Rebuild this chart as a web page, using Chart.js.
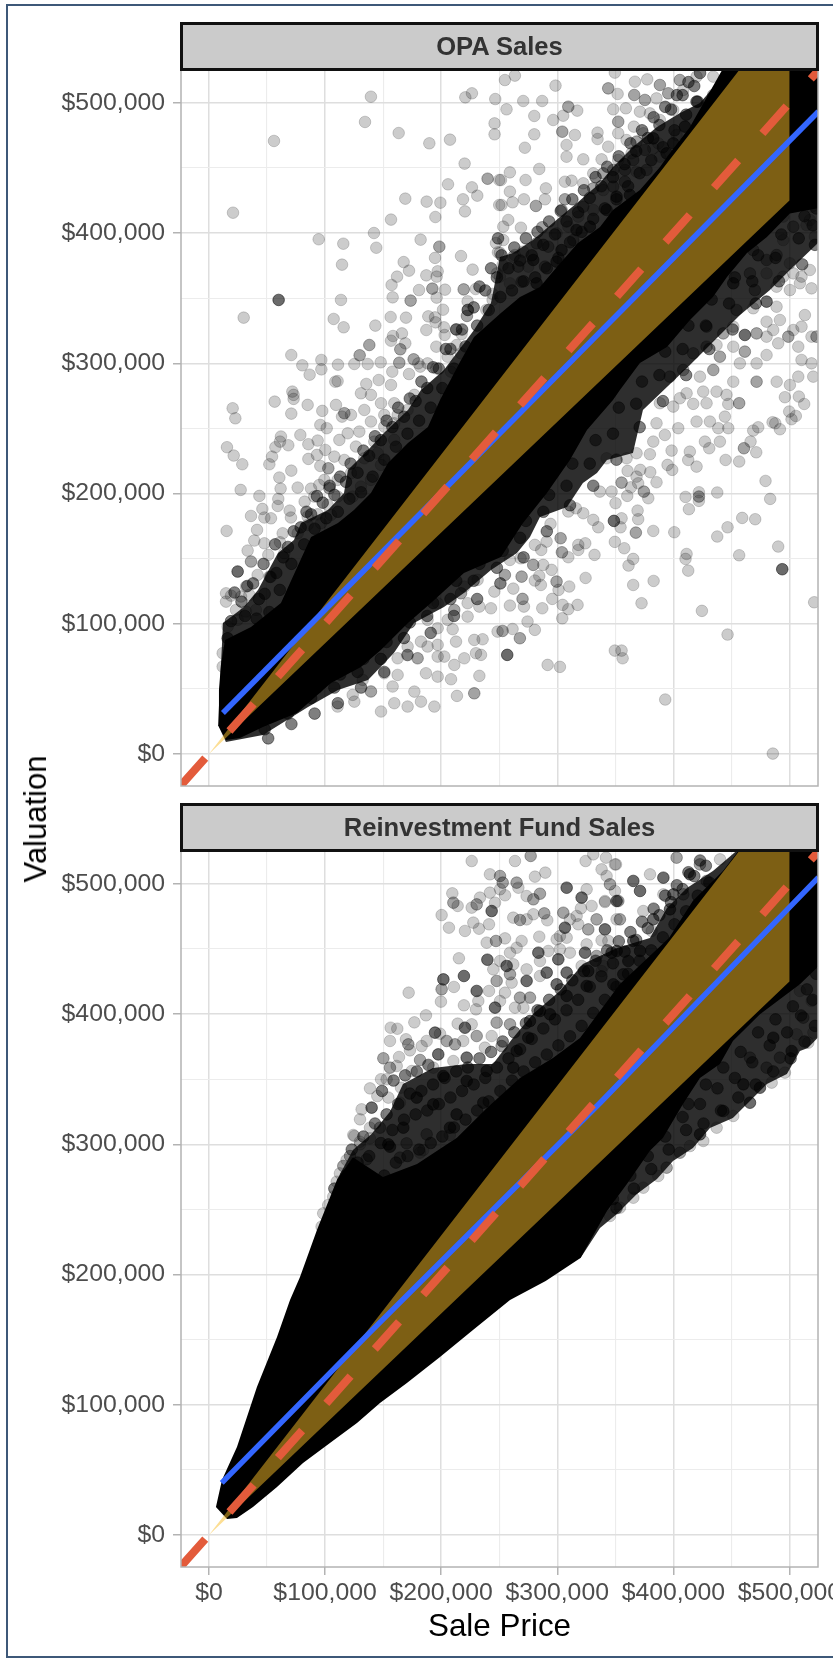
<!DOCTYPE html>
<html>
<head>
<meta charset="utf-8">
<title>Valuation vs Sale Price</title>
<script src="https://cdn.jsdelivr.net/npm/chart.js@4"></script>
<style>
  html, body { margin: 0; padding: 0; background: #fff; overflow: hidden; }
  #page { position: relative; width: 833px; height: 1658px; overflow: hidden; font-family: "Liberation Sans", Arial, sans-serif; }
  #frame { position: absolute; left: 6px; top: 4px; width: 840px; height: 1650px; border: 2px solid #3d5878; }
  .panel { position: absolute; left: 0; width: 833px; filter: blur(0.5px); }
  .strip { position: absolute; left: 180px; width: 633px; height: 43px; line-height: 43px; background: #cbcbcb; border: 3px solid #111;
           text-align: center; font-weight: bold; font-size: 25.6px; color: #333; filter: blur(0.4px); }
  #yTitle { position: absolute; left: 36px; top: 819px; transform: translate(-50%, -50%) rotate(-90deg); font-size: 31px; color: #000; white-space: nowrap; }
</style>
</head>
<body>
<div id="page">
  <div id="frame"></div>
  <div class="panel" style="top:0;height:800px"><canvas id="opaChart" width="833" height="800"></canvas></div>
  <div class="panel" style="top:800px;height:858px"><canvas id="fundChart" width="833" height="858"></canvas></div>
  <div class="strip" style="top:22px">OPA Sales</div>
  <div class="strip" style="top:803px">Reinvestment Fund Sales</div>
  <div id="yTitle">Valuation</div>
</div>
<script>
// all values below in thousands of dollars
const tickValues = [0, 50, 100, 150, 200, 250, 300, 350, 400, 450, 500];
const xRange = [-24.1, 524.6];
const yRange = [-24.6, 525.3];

const bandX = [0, 500, 500];
const bandY = [0, 575, 425];
const refLine = [-24.1, 560];

const opaBlueX = [12, 525];
const opaBlueY = [31.5, 493.4];
const fundBlueX = [11, 138, 337, 525];
const fundBlueY = [40, 155, 332, 505];

// solid black part of the OPA cloud (outline)
const opaDense = [[14.6,10.8],[7.8,22.3],[8.6,49.2],[10.3,68.4],[13.8,87.6],[36.2,97.5],[62,116],[74.9,141.3],[87.9,166.7],[111.1,177.4],[124.9,187.4],[139.5,200.5],[154.2,223.5],[171.4,238.9],[188.6,251.2],[199,271.9],[216.2,301.1],[228.3,320.3],[251.5,338.7],[267.9,351],[285.1,358.7],[299.7,374],[317.8,392.4],[336.8,404.8],[348,417.8],[371.2,433.2],[388.5,450.8],[394.5,458.5],[414.3,481.6],[445,530],[530,530],[530,420],[500.4,415],[480.6,397],[463.4,384.8],[446.2,366.4],[434.1,351],[414.3,333.3],[394.5,312.6],[371.2,300.3],[354,279.6],[348,271.9],[325.6,248.9],[310.9,225.8],[291.1,200.5],[270.5,177.4],[251.5,151.3],[219.6,139],[191.2,116],[171.4,100.6],[148.1,79.9],[130.9,66.8],[105.1,54.5],[75.8,31.5],[46.5,20.7],[26.7,12.3]];
// thinner rim round it
const opaHaze = [[7.8,22.3],[12.1,100.6],[30.1,112.9],[42.2,126],[59.4,154.4],[73.2,164.4],[79.2,177.4],[102.5,187.4],[116.3,200.5],[119.7,218.1],[137,233.5],[150.7,246.5],[171.4,264.2],[182.6,279.6],[202.4,294.9],[228.3,325.7],[242.9,346.4],[250.6,381.7],[261.8,384.8],[279.1,394.8],[302.3,412.4],[317,423.2],[336.8,438.6],[348,450.8],[365.2,466.2],[385.9,481.6],[405.7,492.3],[422.9,500],[440.1,517.7],[445,530],[530,530],[530,397],[500.4,371.7],[483.2,356.4],[457.4,337.2],[435.8,318],[414.3,298.8],[373.8,264.2],[365.2,231.2],[342.8,225.8],[334.2,215.8],[322.1,208.1],[308.4,189.7],[285.1,182],[276.5,166.7],[265.3,154.4],[242.9,141.3],[219.6,123.7],[202.4,112.9],[176.6,100.6],[159.3,77.6],[137,56.8],[111.1,49.2],[85.3,36.1],[46.5,14.6],[14.6,9.2]];

const opaPoints = [[139.5,504.8],[134.4,485.4],[56,470.8],[163.4,476.9],[189.8,469],[207.6,471.8],[220.8,504.3],[226.5,507.4],[246.6,503],[246,484.3],[246,475.9],[220.2,453.4],[250,440.8],[205.9,437.5],[226.5,435.2],[231.1,428.8],[218.8,426],[169.1,426.5],[187.5,424.2],[199.3,423.4],[220.5,416.7],[250,421.6],[195,412.4],[156.8,410.4],[20.7,415.7],[142.1,400.1],[94.5,395.3],[115.7,391.9],[144.1,388.8],[182.3,395],[217.1,382.4],[247.2,392.4],[248.9,385.3],[194.7,381],[167.7,377.8],[114.6,375.8],[172.3,371.2],[227.1,372],[248,369.1],[162,366.6],[187.2,367.6],[197,370.7],[196.1,366.6],[157.3,360.2],[180.9,356.3],[203.3,356.6],[229.7,357.1],[158.2,350.7],[196.1,350.5],[113.7,348.7],[222.8,347.6],[244.3,353.3],[244.3,348.7],[29.9,335.1],[107.4,334.1],[116,327.7],[156.5,335.6],[169.7,335.1],[188.9,336.1],[201.6,341.2],[194.7,335.3],[222.8,341],[238.9,341],[143.3,329],[187.2,325.6],[195.2,331.5],[202.4,327.7],[212.8,326.1],[217.6,322.5],[203,321.8],[158.5,321],[166.2,323],[156.8,317.4],[169.1,315.4],[195.8,312.8],[213.3,314.1],[70.9,306.4],[80.4,298.5],[96.8,302.6],[96.8,295.4],[111.1,299],[86.7,291.3],[125.2,299.5],[136.7,299.5],[147.9,300.8],[180.3,300],[195.8,296.2],[188.3,300],[157.9,293.6],[172.3,291.8],[110.8,286.4],[108.8,285.9],[135.5,284.2],[146.2,287.2],[156.8,283.4],[71.8,278.3],[182,297.5],[205.6,305.1],[217.1,307.7],[208.4,293.6],
[20.4,265.5],[22.7,257.8],[56.6,270.6],[72.9,275.8],[72.9,272.7],[85,268.1],[70.9,261.4],[97.6,263.5],[109.4,268.1],[114.6,259.1],[95.9,252.7],[101.4,250.2],[78.7,245],[62,243.8],[61.2,239.9],[68.3,237.1],[57.2,235.6],[85.6,237.9],[93.6,240.7],[15.5,235.6],[21.3,229.2],[28.7,222.5],[54.3,228.4],[52,222.5],[85.6,226.6],[93,229.7],[100.2,233.5],[95.9,221.2],[70.9,217.6],[60.6,212.3],[61.7,203.8],[76.4,204.6],[27.3,202.8],[43.4,198.2],[87.9,203.8],[95,206.6],[59.7,195.9],[59.2,190.5],[82.4,193.8],[69.5,186.9],[46,188.2],[36.2,182.8],[47.7,181.6],[53.4,181],[70.6,181.6],[93.6,184.1],[15.2,171.3],[41.4,172.1],[85,175.9],[76.4,169.5],[63.5,169.5],[39,163.9],[47.7,161.8],[61.2,162.6],[33.3,156.2],[51.1,152.9],[64.9,154.2],[41.9,137.5],[52,136.2],[14.7,123.4],[19,121.6],[14.7,117],[31.9,128.6],[27.6,120.9],[34.8,122.2],[23.3,110.6],[31.9,109.4],[16.1,97.8],[24.7,103],[40.5,110.6],[11.8,67.1],[11.8,77.4],
[130.9,277],[139.5,275.8],[148.2,269.4],[159.6,269.4],[122.3,260.4],[133.8,264.2],[139.5,255.3],[151,260.4],[162.5,260.4],[159.6,254],[171.1,264.2],[176.9,275.8],[112.3,241.2],[119.5,246.3],[129.5,247.6],[142.4,239.9],[151,251.4],[126.6,236.1],[133.8,227.1],[116.6,225.8],[145.3,231],[108,228.4],[99.4,210.5],[122.3,215.6],[110.8,210.5],[130.9,205.4],[90.7,197.7],[102.2,191.3],[110.8,197.7],[123.8,197.7],[139.5,210.5],[148.2,222],[159.6,241.2],[85,182.3],[105.1,183.6],[96.5,177.2],
[242.9,111.9],[245.8,124.7],[232.9,113.2],[222.8,115.8],[222.8,105.5],[235.7,88.1],[228.5,87.6],[248.6,94],[209.9,95.8],[212.8,86.3],[230,77.4],[234.3,76.1],[219.9,73.5],[211.3,68.4],[202.7,74.8],[197,59.4],[208.5,57.4],[232.9,60],[213.6,44.6],[194.1,36.4],[182.6,40.2],[171.1,36.4],[159.6,39],[176.9,47.9],[158.2,51.8],[148.2,32.6],[125.2,40.2],[110.8,36.4],[123.8,45.4],[182.6,86.3],[197,83.8],[188.3,82.5],[197,96.6],[197,74.8],[186.9,62],[162.5,60.7],[132.4,56.9],[151,62],[162.5,73.5],[171.1,82.5],[205.6,103],[188.3,103],[197,115.8],[219.9,128.6],[231.4,133.7],
[521.3,116.5],[490.3,159.3],[456.7,152.6],[470.5,180.3],[459.3,181.3],[446.7,174.1],[437.8,167],[483.4,195.9],[479.4,209.7],[437.8,200.8],[422,201],[422,194.4],[410.5,197.4],[413.4,188],[400.8,170.3],[382.7,171.3],[369.2,186.9],[369.7,180.3],[355.4,181],[354.5,174.1],[349.6,162.9],[357.7,158],[365.4,149.8],[361.4,144.7],[365.4,129.8],[383,132.9],[372.6,115.8],[411.4,153.6],[410.5,149.8],[412.8,140.8],[424.6,109.9],[446.7,91.7],[393,41.8],[485.7,0.3],[349.6,79.4],[355.4,79.4],[356.3,73.5],[291.7,68.4],[302.3,66.9],[280.7,95.3],[274.4,101.7],[261.5,96],[304.3,104.2],[309.5,111.2],[317.5,114.5],[304.6,114.5],[287.1,111.9],[295.7,119.1],[271.3,113.2],[259.2,114],[262.1,127],[301.1,126],[310.3,128.6],[324.4,135.2],[285.9,129.8],[280.7,133.2],[284.5,136.7],[295.1,141.4],[287.9,145.2],[259.2,149],[268.4,150.3],[309.5,151.1],[332.1,152.9],[318.1,156.7],[324.1,161.8],[318.1,160.6],[286.2,156.7],[280.7,160.6],[290.8,163.1],[294.2,176.7],[335.3,174.1],[331,179.8],[322.4,184.9],[309.5,186.2],[316,188.7],[336.7,201.5],[346.8,201.5],[350.2,192.6],[360.3,198.2],[378.4,196.4],[385.5,208.7],[380.1,216.4],[371.5,218.2],[368.3,213],[360.6,217.4],[363.4,204.8],[369.7,207.9],[399,218.2],[420,220.7],[412.8,225.8],[395,222],[398.5,233],[414.2,232.2],[445,225.8],[456.7,224.6],[471.4,231.7],[466.5,239.9],[440.1,239.9],[430.9,234.8],[427.2,239.9],[473.1,250.9],[468.8,248.4],[485.5,254.8],[491.8,249.4],[487.8,254],[501.8,257.1],[505.5,259.6],[499.8,263],[512.7,268.8],[508.1,274.5],[496.1,274],[447.3,268.8],[445.8,275.8],[438.7,250.2],[447.3,250.2],[444.4,259.1],[431.5,255.3],[420,255.3],[428.6,269.4],[417.1,268.9],[404.2,250.2],[392.7,245],[382.7,239.9],[379.8,230.2],[342.5,227.1],[359.7,227.1],[368.3,231],[385.5,254],[399.9,266.8],[388.4,269.4],[405.6,273.2],[411.4,277],[425.7,278.3],[437.2,278.3],
[298.5,513.3],[254.9,517.6],[263.5,521],[270.7,501.5],[287,501.5],[256.3,495.1],[280.2,490],[296.5,486.9],[317.2,494.1],[305.1,490.2],[315.2,475.4],[280.2,475.9],[308,467.7],[272.1,465.6],[308,458.7],[322.4,456.7],[334.7,477.2],[334.7,472.3],[338.2,456.7],[343.9,466.4],[284.5,449.3],[259.2,446.7],[251.5,440.8],[272.7,440.8],[290.2,434.4],[306.6,439.5],[312.3,440.3],[259.2,431.9],[271.3,426],[261.5,423.7],[289.4,426],[252,421.6],[257.8,410.1],[268.7,404.2],[253.5,405],[253.5,394.7],[250.6,385],[263.5,383.2],[270.7,385.8],[252.9,375.5],[352,506.9],[348.2,495.1],[359.1,495.9],[366.9,516.3],[377.5,518.1],[349.6,523.3],[371.2,493.3],[379.8,492],[408.5,510],[420,520.2],[434.4,520.2],[385.5,503.5],[399.9,494.6],[388.4,486.9],[366,481.8],[374.1,476.7],[352.5,476.7],[359.7,471.5],[382.7,465.1],[364,461.3],[402.8,475.4],[368.3,447.2],[388.4,458.7],[387,469],[352.5,456.2],[331,445.9],[322.4,438.3],[339.6,433.1],[331,417.8],[318.1,412.7],[309.5,405],[299.4,399.9],[262,381.9],[275,374.3],[259.2,361.5],[250.6,366.6],
[507.6,312.8],[510.4,302.6],[503.3,325.6],[491.8,333.3],[480.3,332],[488.9,343.5],[513.3,337.1],[519,357.6],[509,361.5],[500.4,356.3],[488.9,358.9],[517.6,371.7],[510.4,366.6],[503.3,369.1],[480.3,369.1],[494.6,366.6],[490.3,315.4],[480.3,306.4],[471.7,300],[451.6,312.8],[437.2,314.1],[451.6,328.2],[451.6,285.9],[457.3,300],[489,285.9],[507.6,289.8],[520.5,289.8],[500.4,283.4],[422.9,289.8],[519,300],[519,320.5],[510.4,328.2],[486,325.6],[480.3,320.5],[468.8,342.3],[494.6,394.7],[514.7,406.2],[521.9,397.3],[500.4,376.8],[517.6,410.1],[494.6,412.7],[519,420.3]];

const opaPairs = [[240,441.8],[198.4,389.6],[192.4,357.4],[219.4,356.8],[173.7,348.2],[222.2,336.4],[138.1,314.1],[164.8,310.8],[129.8,306.2],[163.9,300.5],[176.3,303.1],[116.6,261.7],[102.8,219.4],[103.7,204.1],[36.2,147.8],[228.5,46.6],[139.5,48],[179.7,73.5],[211.3,110.6],[217.1,123.4],[422,197.7],[367.7,170],[267.8,88.9],[252.9,94.5],[270.1,119.1],[269.3,136.2],[299.4,132.4],[279.3,145.2],[254.9,137.5],[304,154.9],[302.9,165.7],[374.6,201.5],[355.4,208.4],[460.8,234.8],[456.7,269.4],[309.5,497.1],[304.3,477.9],[281.6,420.9],[306.6,426],[287,404.5],[266.4,374.3],[343.9,511.2],[366.3,506.1],[375.5,502.3],[388.4,513.8],[395.6,507.4],[405.6,517.6],[434.4,506.1],[352.5,485.6],[375.5,463.9],[368.3,470.3],[358.3,448.5],[348.2,448.5],[376.9,448.5],[365.4,456.2],[339.6,445.9],[331,434.4],[348.2,435.7],[358.3,439.5],[322.4,420.3],[303.7,417.8],[282.2,392.2],[292.2,389.6],[313.8,394.7],[289.4,374.3],[269.3,362.7],[523.3,320.5],[471.7,323],[499,320.5],[461.6,309],[428.6,328.2],[443,323],[428.6,312.8],[417.1,307.7],[440.1,305.1],[434.4,294.9],[471.7,285.9],[408.5,294.9],[397,289.8],[454.4,341],[470.2,356.3],[480.3,379.4],[503.3,405],[488.9,383.2],[468.8,387],[466,369.1]];

const opaDark = [[60,348.7],[493.8,141.9],[256.9,76.1],[348.8,179],[24.7,140.1],[16.1,88.9],[420,501],[382.7,472.8],[394.2,461.3],[399.9,469],[410,481.8],[362.6,429.3],[351.1,428],[342.5,417.8],[316.6,402.4],[328.1,405],[303.7,387],[279.3,379.4],[299.4,378.1],[282.2,361.5],[480.3,347.4],[461.6,321.8],[451.6,361.5]];

// clumps along the edge of the OPA cloud
const opaRim = [[19,102],[22,124],[31,106],[28,117],[33,129],[41,104],[43,119],[38,131],[52,109],[48,123],[53,136],[47,146],[61,126],[58,139],[64,151],[57,161],[71,146],[68,159],[73,171],[82,161],[79,174],[84,186],[91,173],[88,184],[93,198],[101,181],[98,193],[104,206],[111,186],[108,199],[113,213],[121,196],[118,209],[122,223],[131,201],[128,216],[133,233],[141,213],[138,229],[143,244],[151,226],[148,241],[153,256],[161,236],[158,251],[163,266],[171,246],[168,259],[173,273],[181,256],[178,271],[183,286],[191,266],[188,281],[193,297],[201,281],[198,296],[204,311],[211,296],[208,311],[213,326],[221,313],[218,326],[223,341],[231,329],[228,343],[233,359],[241,341],[238,356],[243,373],[251,351],[248,366],[252,383],[249,396],[261,356],[258,373],[263,389],[271,363],[268,379],[273,396],[281,366],[278,383],[283,401],[291,373],[288,391],[293,409],[301,381],[298,399],[303,417],[311,393],[308,409],[313,426],[321,401],[318,416],[323,433],[331,411],[328,427],[333,443],[341,419],[338,436],[343,451],[351,426],[348,443],[353,459],[361,436],[358,453],[363,469],[371,446],[368,463],[373,479],[381,456],[378,473],[383,489],[391,466],[388,483],[393,497],[401,479],[398,495],[403,506],[411,491],[408,506],[413,516],[421,501],[418,513],[423,523],
[51,12],[48,19],[71,23],[68,31],[91,31],[88,43],[93,51],[111,39],[108,51],[113,61],[131,51],[128,63],[133,73],[151,63],[148,73],[153,86],[171,76],[168,89],[173,101],[191,93],[188,106],[193,116],[211,106],[208,119],[213,133],[231,119],[228,133],[233,146],[251,131],[248,143],[253,156],[271,151],[268,166],[273,179],[291,171],[288,186],[293,199],[311,191],[308,206],[313,223],[331,206],[328,223],[333,241],[351,226],[348,246],[353,266],[371,251],[368,269],[373,286],[391,271],[388,291],[393,309],[411,291],[408,311],[413,329],[431,311],[428,329],[433,349],[451,326],[448,346],[453,366],[471,346],[468,363],[473,383],[491,363],[488,381],[493,399],[511,376],[508,396],[513,413],[522,391],[520,406],[523,419]];

// same layers for the Reinvestment Fund panel
const fundDense = [[15.5,12.3],[6,21.5],[11.2,42.2],[24.1,67.6],[41.3,113.7],[58.6,152.1],[69.8,180.5],[78.4,198.2],[93,234.3],[110.2,272.7],[124,290],[149.9,275],[179.2,285],[213.6,305],[239.4,328],[267.9,351],[296.3,366.4],[319.6,381.7],[336.8,402.5],[354,423.2],[396.2,458.5],[416.9,487],[442.7,510],[460,530],[530,530],[530,441],[509,423],[497.8,415.5],[474.6,400],[451.3,379.4],[440.1,361.8],[422.9,351],[408.3,331],[391,304.9],[379.8,295],[360,269.6],[342.8,248.9],[320,212.7],[290,195],[259.3,180.5],[227.4,157.5],[199,136.7],[170.5,116.7],[147.3,101.4],[127.5,86],[104.2,70.7],[81,55.3],[58.6,36.9],[37.9,21.5],[24.1,13.1]];
const fundHaze = [[110.2,272.7],[124,295.7],[140,308],[155.9,325],[167.1,346.4],[192.9,358.7],[222.2,361.8],[244.6,361.8],[261.8,381.7],[279.1,400.1],[302.3,417.8],[322.1,438.6],[351.4,450.8],[379.8,458.5],[394.5,481.6],[411.7,496.9],[434.1,510],[451.3,523],[460,530],[530,530],[530,387],[515.9,374],[509,371.7],[497.8,354],[480.6,346.4],[463.4,331],[451.3,320.3],[431.5,312.6],[416.9,297.2],[399.7,287.2],[385.9,273.4],[368.6,261.9],[351.4,246.5],[336.8,235.8],[320,212.7],[200,200]];

const fundPoints = [[226.3,517.6],[263.6,517.6],[324.4,517.6],[331,522.7],[342,520.2],[350.6,515],[242,507.4],[280.8,505.6],[289.7,508.7],[266.5,497.1],[338.2,511.2],[342.5,506.1],[345.4,499.7],[349.7,494.6],[209.6,492.8],[214.2,483.1],[242,493.3],[250.7,495.9],[255,491.3],[233.4,489.5],[226.3,481.8],[246.4,485.6],[273.6,490.7],[325.3,495.9],[329.6,483.1],[341.1,486.1],[200.4,476.1],[206.7,466.4],[220.5,463.9],[227.7,470.3],[232.6,465.6],[241.2,469],[262.1,474.1],[273.6,472.8],[279.4,476.7],[291.4,472.1],[310.9,472.8],[316.7,475.4],[320.4,481.3],[318.1,469],[351.1,472.8],[284.5,459.5],[269.3,456.2],[239.2,454.9],[255,458.2],[302.3,460],[308.1,458.7],[299.5,457.5],[325.3,453.6],[338.2,456.7],[265,451],[259.3,447.2],[292.3,448.5],[302.3,449.8],[310.9,447.2],[215.3,442.9],[250.7,440.8],[262.1,438.3],[273.6,434.4],[285.1,440.8],[321,437],[338.2,433.1],[244.9,434.4],[211,420.9],[260.7,424.2],[285.1,429.3],[172,416.5],[199.8,409.6],[241.2,417.8],[255,416.5],[232,410.1],[219.6,406.8],[230,403.7],[250.7,410.1],[263.6,405],[270.8,405],[186.9,399.1],[176.9,393.7],[156.5,389.6],[162.2,388.8],[214.2,392.7],[226.3,392.2],[155.9,379.4],[169.7,380.7],[173.1,372.2],[199,385],[187.5,379.4],[183.2,375.5],[219,379.4],[243.5,383.2],[163.7,367.1],[161.7,360.2],[210.5,364],[237.7,374.3],[174.6,356.3],[148.2,350],[138.7,343],[165.4,343.5],[153,350],[145,337.1],[154.5,335.9],[193.2,358.9],[131.5,326.9],[130.1,319.2],[164.5,332],[138.7,312.8],[125.2,306.4],[130.1,300],[181.8,293.6],
[341.1,486.9],[345.4,499.7],[349.7,515],[379.9,507.4],[391.4,492],[374.1,479.2],[344,456.2],[381.3,463.9],[339.7,437],[440.2,518.9],[516.2,378.1],[520.6,385.8],[451.6,321.8],[496.1,355.1],[484.7,347.4],[437.3,312.8],[425.8,302.6],[414.3,298.7],[387,275.7],[374.1,266.7],[365.5,259],[354,251.4],[345.4,245],[506.2,384.5],[519.1,410.1],[509,417.8],
[124.3,307.2],[130,302],[138.6,304.6],[118.5,288],[112.8,277.7],[110,271.3],[107,259.8],[102.7,253.4],[98.4,247],[97,236.8],[118.5,256],[144.4,272.6],[184.6,295.6],[207.5,307.2]];

const fundPairs = [[277.1,521.5],[250.7,506.1],[253,501],[265,501],[210.5,485.6],[230.6,484.3],[285.1,492.5],[279.4,488.2],[267.9,472.3],[288.8,477.4],[305.2,477.9],[326.7,465.1],[333.9,472.8],[247.2,456.2],[333.9,444.7],[259.3,430.6],[200.4,419.1],[247.8,425.5],[267.9,412.7],[276.5,412.7],[247.8,393.5],[259.3,392.2],[171.7,376.8],[204.7,379.4],[211.9,376.8],[230.6,383.2],[252.1,375.5],[150.2,366.1],[155.9,358.9],[181.8,364.8],[147.3,312.8],[187.5,307.7],[121.5,291],[135.8,288.5],[115.7,283.4],[164.5,289.8],[352.6,486.9],[422.9,515],[428.7,502.3],[408.6,492],[354,472.8],[402.8,520.2],[394.2,282.1],[491.8,366.6],[480.3,358.9],[405.7,293.6],[511.9,397.3],[466,366.6],[127.2,272.6],[170.2,300.8]];

const fundDark = [[308.1,497.1],[321,489.5],[351.1,486.9],[243.5,479.2],[306.6,466.4],[341.1,465.1],[283.7,447.2],[323.9,447.2],[346.8,447.2],[239.8,441.8],[256.4,437],[300.9,442.1],[290.9,431.9],[308.1,431.9],[326.7,433.1],[219.6,429.3],[201.9,426.7],[273.6,425.5],[299.5,422.9],[325.3,421.6],[230.6,417.8],[308.1,414],[246.4,405],[285.1,402.4],[220.5,389.6],[276.5,394.7],[293.7,399.9],[194.7,385.8],[265,371.7],[275,381.9],[197.5,369.1],[222,366.6],[201.9,352.5],[222,348.7],[239.2,356.3],[262.1,358.9],[140.1,328.2],[178.9,335.9],[193.2,330.7],[213.3,323],[236.3,332],[167.4,312.8],[154.5,300],[207.6,312.8],[365.5,502.3],[371.3,494.6],[391.4,504.8],[414.3,507.4],[382.7,472.8],[365.5,456.2],[371.3,448.5],[351.2,448.5],[361.2,440.8],[356.9,430.6],[348.3,422.9],[400,492],[397.1,480.5],[466,332],[474.6,343.5],[501.9,371.7],[460.3,346.1],[443,325.6],[423,307.7],[486.1,381.9],[155.9,298.2]];

const fundRim = [[111,251],[108,266],[121,256],[118,276],[123,296],[131,263],[128,286],[133,306],[141,269],[138,291],[143,316],[151,276],[148,301],[153,323],[149,341],[161,286],[158,311],[163,331],[159,349],[171,291],[168,319],[173,339],[169,353],[181,296],[178,323],[183,341],[179,356],[191,301],[188,326],[193,346],[189,361],[201,306],[198,331],[203,351],[211,313],[208,336],[213,356],[221,319],[218,341],[223,359],[231,326],[228,346],[233,366],[241,333],[238,351],[243,371],[251,341],[248,359],[253,379],[261,349],[258,366],[263,386],[271,356],[268,373],[273,393],[281,363],[278,381],[283,403],[291,369],[288,389],[293,411],[301,376],[298,396],[303,419],[311,383],[308,403],[313,426],[321,391],[318,411],[323,433],[331,401],[328,421],[333,441],[341,411],[338,429],[343,449],[351,421],[348,439],[353,456],[361,431],[358,448],[363,463],[371,441],[368,457],[373,471],[381,449],[378,466],[383,481],[391,459],[388,476],[393,491],[401,469],[398,486],[403,499],[411,479],[408,496],[413,509],[421,491],[418,506],[423,518],[431,501],[428,514],
[351,251],[348,258],[366,266],[363,276],[381,281],[378,291],[396,296],[393,306],[411,311],[408,321],[413,331],[426,316],[423,331],[428,346],[441,326],[438,343],[443,359],[456,336],[453,351],[458,371],[471,346],[468,363],[473,386],[486,356],[483,376],[488,396],[501,366],[498,386],[503,406],[513,379],[510,399],[515,419],[522,391],[520,411],[523,431]];

const money = v => '$' + (v * 1000).toLocaleString('en-US');
const toXY = pairs => pairs.map(([x, y]) => ({x: x, y: y}));
const zip = (xs, ys) => xs.map((x, i) => ({x: x, y: ys[i]}));

// axis frame on all four sides of the panel
const panelBorder = {
  id: 'panelBorder',
  afterDatasetsDraw(chart) {
    const a = chart.chartArea, c = chart.ctx;
    c.save();
    c.strokeStyle = '#b3b3b3';
    c.lineWidth = 1.5;
    c.strokeRect(a.left, a.top, a.right - a.left, a.bottom - a.top);
    c.restore();
  }
};

function axis(range, showLabels, extra) {
  return Object.assign({
    type: 'linear',
    min: range[0],
    max: range[1],
    afterBuildTicks: s => { s.ticks = tickValues.map(v => ({value: v})); },
    border: {display: false},
    grid: {
      color: c => c.tick && c.tick.value % 100 === 0 ? '#dedede' : '#ececec',
      lineWidth: c => c.tick && c.tick.value % 100 === 0 ? 1.5 : 1.1,
      drawTicks: showLabels,
      tickLength: 8,
      tickWidth: 1.5,
      tickColor: c => c.tick && c.tick.value % 100 === 0 ? '#b3b3b3' : 'rgba(0,0,0,0)'
    },
    ticks: {
      display: showLabels,
      autoSkip: false,
      maxRotation: 0,
      minRotation: 0,
      color: '#4d4d4d',
      font: {family: '"Liberation Sans"', size: 24.8},
      callback: v => v % 100 === 0 ? money(v) : ''
    }
  }, extra);
}

function makePanel(id, sets, blueX, blueY, xShow, chartTop, xHeight) {
  const poly = (pts, col, ord) => ({data: toXY(pts), showLine: true, fill: 'shape', backgroundColor: col, borderWidth: 0, pointRadius: 0, clip: 0, order: ord});
  const dots = (pts, a, ord) => ({data: toXY(pts), backgroundColor: 'rgba(0,0,0,' + a + ')', borderColor: 'rgba(0,0,0,' + (a * 0.9) + ')', borderWidth: 1, pointRadius: 5.8, clip: 0, order: ord});
  new Chart(document.getElementById(id), {
    type: 'scatter',
    data: {
      datasets: [
        poly(sets.haze, 'rgba(0,0,0,0.82)', 9),
        dots(sets.rim, 0.5, 8),
        poly(sets.dense, '#000', 7),
        dots(sets.points, 0.2, 6),
        dots(sets.pairs, 0.36, 5),
        dots(sets.dark, 0.58, 4),
        {data: zip(bandX, bandY), showLine: true, fill: 'shape', backgroundColor: 'rgba(250,190,40,0.5)', borderWidth: 0, pointRadius: 0, clip: 0, order: 3},
        {data: zip(blueX, blueY), showLine: true, borderColor: '#3366ff', borderWidth: 5.5, pointRadius: 0, clip: 0, order: 2},
        {data: zip(refLine, refLine), showLine: true, borderColor: '#e35b3b', borderWidth: 8, borderDash: [36.4, 36.4], pointRadius: 0, clip: 0, order: 1}
      ]
    },
    options: {
      responsive: false,
      animation: false,
      events: [],
      layout: {padding: {left: 0, right: 15, top: chartTop, bottom: 0}},
      plugins: {legend: {display: false}, tooltip: {enabled: false}, title: {display: false}},
      scales: {
        x: axis(xRange, xShow, {
          afterFit: s => { s.paddingLeft = 0; s.paddingRight = 0; s.height = xHeight; },
          ticks: Object.assign({}, axis(xRange, xShow).ticks, {padding: 3}),
          title: {display: xShow, text: 'Sale Price', color: '#000', font: {family: '"Liberation Sans"', size: 31.4}, padding: {top: 0, bottom: 12}}
        }),
        y: axis(yRange, true, {
          afterFit: s => { s.width = 181; s.paddingTop = 0; s.paddingBottom = 0; },
          ticks: Object.assign({}, axis(yRange, true).ticks, {padding: 8})
        })
      }
    },
    plugins: [panelBorder]
  });
}

makePanel('opaChart', {dense: opaDense, haze: opaHaze, rim: opaRim, points: opaPoints, pairs: opaPairs, dark: opaDark}, opaBlueX, opaBlueY, false, 70, 14);
makePanel('fundChart', {dense: fundDense, haze: fundHaze, rim: fundRim, points: fundPoints, pairs: fundPairs, dark: fundDark}, fundBlueX, fundBlueY, true, 51, 91);
</script>
</body>
</html>
